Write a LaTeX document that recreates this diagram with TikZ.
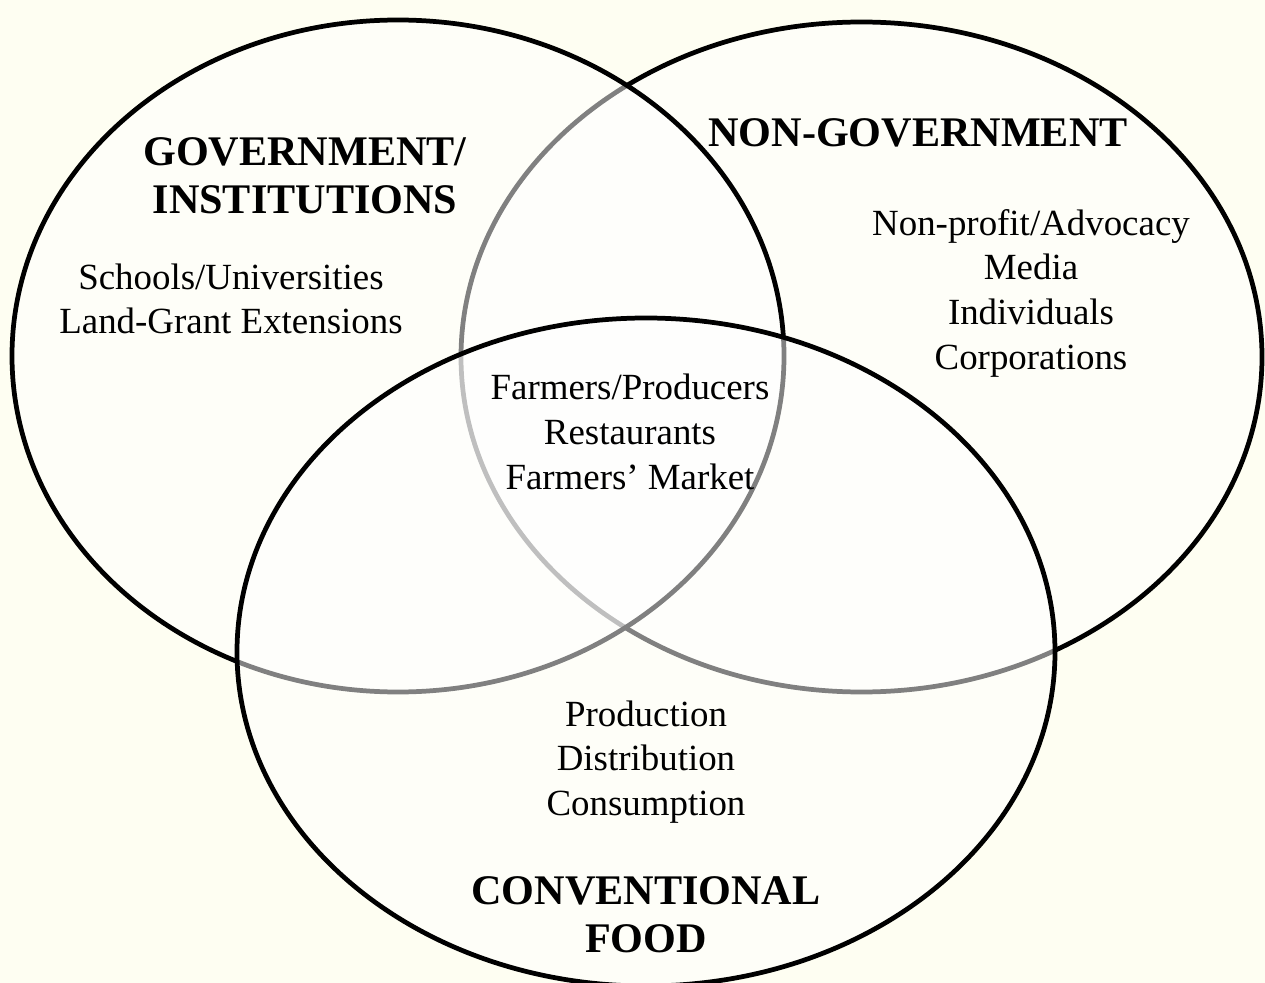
\documentclass[tikz,border=0pt]{standalone}
\usepackage{fontspec}
\setmainfont{Liberation Serif}
\definecolor{bgcream}{HTML}{FEFEF2}
\begin{document}
\begin{tikzpicture}[x=0.02cm,y=-0.02cm,
  setring/.style={draw=black,line width=2.7pt,fill=white,fill opacity=0.5},
  itemtext/.style={align=center,font=\fontsize{21}{25.4}\selectfont,inner sep=0pt},
  headtext/.style={align=center,font=\fontsize{24}{27.5}\selectfont\bfseries,inner sep=0pt}]
\fill[bgcream] (0,0) rectangle (1265,983);
\useasboundingbox (0,0) rectangle (1265,983);
\path[setring] (861.5,357) ellipse [x radius=400.5, y radius=335];
\path[setring] (398,356) ellipse [x radius=386, y radius=336];
\path[setring] (646,652) ellipse [x radius=409, y radius=334];
\node[headtext] (gov) at (305,176) {GOVERNMENT/\\INSTITUTIONS};
\node[headtext] (ngo) at (918,133) {NON-GOVERNMENT};
\node[headtext] (conv) at (646,915) {CONVENTIONAL\\FOOD};
\node[itemtext] (govlist) at (231,299) {Schools/Universities\\Land-Grant Extensions};
\node[itemtext] (ngolist) at (1031,293) {Non-profit/Advocacy\\Media\\Individuals\\Corporations};
\node[itemtext] (midlist) at (630,432) {Farmers/Producers\\Restaurants\\Farmers’ Market};
\node[itemtext] (convlist) at (646,762) {Production\\Distribution\\Consumption};
\end{tikzpicture}
\end{document}
